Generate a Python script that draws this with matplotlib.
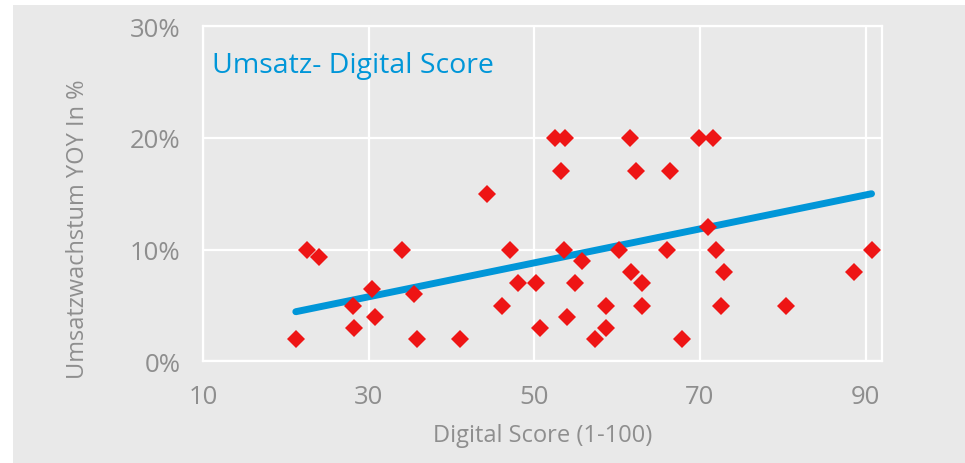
import matplotlib.pyplot as plt
from matplotlib.patches import Rectangle
from matplotlib.ticker import FuncFormatter

plt.rcParams['font.family'] = ['Open Sans', 'DejaVu Sans']

# Digital Score (1-100) vs. Umsatzwachstum YOY in %
digital_score = [21.2, 22.5, 24.0, 28.1, 28.2, 30.4, 30.7, 34.0, 35.5, 35.8,
                 41.0, 44.3, 46.1, 47.0, 48.0, 50.2, 50.7, 52.5, 53.7, 53.2,
                 53.6, 53.9, 54.9, 55.7, 57.3, 58.7, 58.6, 60.2, 61.6, 61.7,
                 62.3, 63.0, 63.0, 66.4, 66.0, 67.8, 69.9, 71.6, 71.0, 71.9,
                 72.9, 72.5, 80.4, 88.6, 90.7]
umsatz_growth = [2, 10, 9.3, 5, 3, 6.5, 4, 10, 6, 2,
                 2, 15, 5, 10, 7, 7, 3, 20, 20, 17,
                 10, 4, 7, 9, 2, 3, 5, 10, 20, 8,
                 17, 7, 5, 17, 10, 2, 20, 20, 12, 10,
                 8, 5, 5, 8, 10]

# linear trend line as drawn in the reference
trend_x = [21.2, 90.7]
trend_y = [4.45, 15.0]

x_ticks = [10, 30, 50, 70, 90]
y_ticks = [0, 10, 20, 30]

bg = '#e9e9e9'
grey_text = '#8e8e8e'
blue = '#0096d8'
red = '#ee1515'

fig = plt.figure(figsize=(9.65, 4.64), dpi=100, facecolor='white')
fig.patches.append(Rectangle((13 / 965, 0), 1, 458 / 464, transform=fig.transFigure,
                             facecolor=bg, edgecolor='none', zorder=-10))

ax = fig.add_axes([0.2104, 0.2188, 0.7039, 0.7230])
ax.set_facecolor(bg)

ax.plot(trend_x, trend_y, color=blue, linewidth=5, solid_capstyle='round', zorder=2)
ax.plot(digital_score, umsatz_growth, linestyle='none', marker='D', markersize=8.7,
        color=red, markeredgewidth=0, zorder=3)

ax.set_xlim(10, 92)
ax.set_ylim(0, 30)
ax.set_xticks(x_ticks)
ax.set_yticks(y_ticks)
ax.yaxis.set_major_formatter(FuncFormatter(lambda v, p: f'{v:.0f}%'))
ax.grid(True, color='white', linewidth=1.6, zorder=0)
ax.set_axisbelow(True)
for s in ax.spines.values():
    s.set_color('white')
    s.set_linewidth(1.6)
ax.tick_params(length=0, labelsize=18.5, labelcolor=grey_text)
ax.tick_params(axis='x', pad=16)
ax.tick_params(axis='y', pad=16)

ax.set_xlabel('Digital Score (1-100)', fontsize=17, color=grey_text, labelpad=10)
ax.set_ylabel('Umsatzwachstum YOY In %', fontsize=17, color=grey_text)
ax.yaxis.set_label_coords(-0.166, 0.396)

ax.text(0.013, 0.925, 'Umsatz- Digital Score', transform=ax.transAxes, fontsize=20.5,
        color=blue, va='top', ha='left')

fig.savefig('out.png', dpi=100, facecolor=fig.get_facecolor())
